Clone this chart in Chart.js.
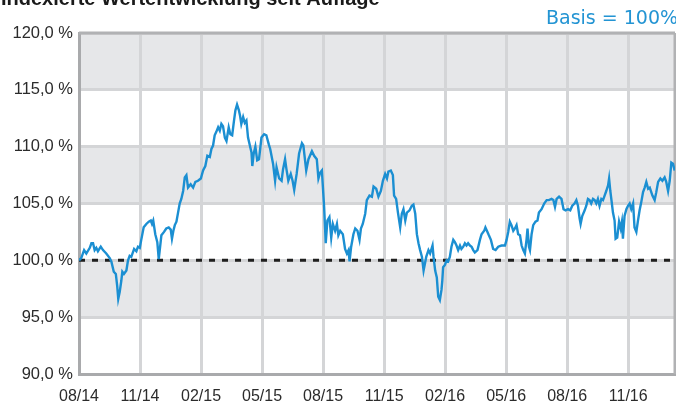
<!DOCTYPE html>
<html>
<head>
<meta charset="utf-8">
<script src="https://cdn.jsdelivr.net/npm/chart.js@4/dist/chart.umd.min.js"></script>
<style>
  html, body { margin: 0; padding: 0; background: #ffffff; }
  #wrap { position: relative; width: 676px; height: 405px; overflow: hidden; }
  canvas { display: block; }
</style>
</head>
<body>
<div id="wrap"><canvas id="c" width="676" height="405"></canvas></div>
<script>
// ---- Data ----
const chartTitle = 'Indexierte Wertentwicklung seit Auflage';
const basisText = 'Basis = 100%';
const xTickLabels = ['08/14','11/14','02/15','05/15','08/15','11/15','02/16','05/16','08/16','11/16'];
const yTickLabels = ['90,0 %','95,0 %','100,0 %','105,0 %','110,0 %','115,0 %','120,0 %'];
const basisValue = 100;
const monthsEnd = 29.3;
// months since 08/2014
const months = [
 0,0.11,0.25,0.36,0.53,0.61,0.69,0.77,0.85,0.93,1.07,1.18,1.34,1.51,1.59,1.71,1.81,1.88,1.93,2.00,
 2.08,2.13,2.21,2.33,2.41,2.49,2.57,2.71,2.82,2.90,2.99,3.06,3.18,3.31,3.43,3.53,3.59,3.65,3.75,3.85,
 3.92,3.97,4.05,4.18,4.29,4.41,4.51,4.57,4.64,4.71,4.79,4.87,4.95,5.03,5.12,5.20,5.28,5.36,5.49,5.61,
 5.72,5.85,5.99,6.10,6.21,6.31,6.43,6.51,6.59,6.67,6.75,6.84,6.92,7.00,7.08,7.17,7.25,7.36,7.44,7.53,
 7.62,7.69,7.77,7.86,7.92,7.98,8.07,8.15,8.23,8.31,8.40,8.48,8.52,8.59,8.67,8.76,8.85,8.97,9.10,9.21,
 9.33,9.40,9.54,9.64,9.71,9.84,9.96,10.03,10.13,10.20,10.29,10.41,10.50,10.58,10.70,10.82,10.96,11.03,11.17,11.28,
 11.45,11.56,11.69,11.77,11.85,11.94,12.05,12.13,12.21,12.31,12.40,12.48,12.59,12.68,12.75,12.84,12.97,13.08,13.17,13.25,
 13.30,13.38,13.49,13.58,13.69,13.79,13.86,13.95,14.07,14.15,14.28,14.40,14.48,14.61,14.72,14.84,14.94,15.05,15.14,15.21,
 15.33,15.43,15.49,15.59,15.68,15.79,15.87,15.95,16.04,16.12,16.25,16.36,16.44,16.53,16.61,16.69,16.77,16.86,16.94,17.07,
 17.18,17.26,17.38,17.43,17.51,17.59,17.66,17.74,17.82,17.86,17.90,17.99,18.07,18.15,18.23,18.31,18.40,18.48,18.56,18.64,
 18.73,18.80,18.89,18.97,19.05,19.13,19.22,19.30,19.38,19.46,19.59,19.71,19.79,19.92,19.98,20.08,20.15,20.25,20.36,20.48,
 20.61,20.77,20.94,21.02,21.10,21.18,21.26,21.35,21.43,21.51,21.59,21.68,21.76,21.84,21.92,22.00,22.05,22.12,22.17,22.25,
 22.33,22.44,22.54,22.61,22.74,22.87,22.99,23.10,23.23,23.32,23.40,23.48,23.60,23.72,23.82,23.92,24.04,24.15,24.25,24.36,
 24.45,24.53,24.61,24.66,24.74,24.86,24.94,25.02,25.10,25.18,25.27,25.35,25.43,25.51,25.59,25.68,25.76,25.84,25.92,26.01,
 26.06,26.12,26.19,26.25,26.33,26.38,26.46,26.55,26.63,26.69,26.74,26.82,26.91,26.99,27.07,27.15,27.24,27.31,27.40,27.48,
 27.56,27.64,27.73,27.81,27.89,27.98,28.06,28.19,28.30,28.38,28.47,28.58,28.68,28.79,28.87,28.96,29.04,29.12,29.20,29.28
];
const values = [
 100.0,100.2,100.9,100.6,101.1,101.5,101.5,100.9,101.1,100.8,101.2,100.9,100.6,100.2,99.9,99.0,98.8,97.7,96.6,97.2,
 98.2,99.0,98.8,99.1,100.0,100.4,100.3,101.0,100.8,101.2,101.1,101.8,102.9,103.2,103.4,103.5,103.2,103.5,102.3,101.6,
 100.1,100.9,102.2,102.5,102.8,102.9,102.7,101.9,102.6,103.1,103.4,104.2,105.0,105.4,106.1,107.3,107.5,106.4,106.7,106.4,
 106.9,107.0,107.2,107.9,108.3,109.2,109.1,109.8,110.1,111.0,111.3,111.7,111.4,112.0,111.8,110.8,110.5,111.7,111.1,111.0,
 112.3,113.2,113.7,113.2,112.7,112.0,112.6,112.1,112.3,110.8,110.1,109.5,108.3,109.4,110.0,108.8,108.9,110.8,111.1,111.0,
 110.2,109.8,108.5,107.0,108.2,107.2,107.0,108.0,108.9,108.0,107.0,107.6,107.0,106.2,107.6,109.4,110.3,110.1,107.9,108.9,
 109.6,109.2,108.9,107.2,107.7,107.9,104.7,101.5,103.5,103.8,102.0,103.2,102.6,103.2,102.2,102.6,102.3,101.0,100.6,100.9,
 99.9,101.2,102.3,102.8,102.6,101.8,102.8,103.2,104.1,105.3,105.7,105.6,106.5,106.3,105.6,106.1,107.0,107.6,107.2,107.8,
 107.9,107.5,105.7,105.4,104.2,102.9,104.1,104.5,103.5,104.2,104.4,104.8,104.9,104.1,102.3,101.5,100.9,100.3,99.1,100.3,
 100.9,100.6,101.3,100.3,99.1,98.5,96.8,96.5,97.4,98.2,99.4,99.6,100.0,99.9,100.3,101.2,101.8,101.6,101.3,100.9,
 101.3,101.0,101.2,101.5,101.3,101.5,101.3,101.2,100.9,100.7,100.9,101.8,102.3,102.6,102.9,102.5,102.2,101.8,101.0,100.9,
 101.2,101.3,101.3,101.8,102.5,103.4,103.1,102.6,102.8,103.1,102.3,102.2,101.3,100.9,100.6,101.8,102.8,101.2,100.9,102.3,
 103.1,103.4,103.5,104.2,104.5,105.0,105.3,105.3,105.4,105.3,104.7,105.4,105.6,105.4,104.5,104.4,104.5,104.4,104.8,105.0,
 105.3,104.8,103.7,103.2,103.9,104.4,104.8,105.4,105.3,105.0,105.4,105.3,105.0,105.4,104.8,105.4,105.3,105.7,106.1,106.6,
 107.2,106.1,105.1,104.2,103.5,101.9,102.0,103.4,102.8,103.4,101.9,103.9,104.5,104.8,105.0,104.5,105.0,102.9,102.5,103.5,
 104.4,105.1,106.0,106.4,106.9,106.3,106.4,105.7,105.3,106.0,106.9,107.2,107.0,107.3,106.9,106.1,107.0,108.6,108.5,107.9
];

// ---- Build ----
const seriesPoints = months.map((m, i) => ({ x: m, y: values[i] }));
const basisPoints = [{ x: 0, y: basisValue }, { x: monthsEnd, y: basisValue }];

const FONT = "'Liberation Sans', Arial, Helvetica, sans-serif";

const bandsPlugin = {
  id: 'bands',
  beforeDraw(chart) {
    const { ctx, chartArea: a, scales: { y } } = chart;
    ctx.save();
    const bands = [[115, 120], [105, 110], [95, 100]];
    ctx.fillStyle = '#e6e7e9';
    bands.forEach(([lo, hi]) => {
      const t = y.getPixelForValue(hi), b = y.getPixelForValue(lo);
      ctx.fillRect(a.left, t, a.right - a.left, b - t);
    });
    ctx.restore();
  },
  beforeDatasetsDraw(chart) {
    const { ctx, chartArea: a } = chart;
    ctx.save();
    ctx.strokeStyle = '#b1b2b4';
    ctx.lineWidth = 3;
    ctx.beginPath();
    ctx.moveTo(a.left, a.top);
    ctx.lineTo(a.right, a.top);
    ctx.moveTo(a.right, a.top);
    ctx.lineTo(a.right, a.bottom);
    ctx.stroke();
    ctx.restore();
  },
  afterDraw(chart) {
    const { ctx } = chart;
    ctx.save();
    ctx.fillStyle = '#1a1a1a';
    ctx.font = "bold 20px " + FONT;
    ctx.textBaseline = 'alphabetic';
    ctx.textAlign = 'left';
    ctx.fillText(chartTitle, 1, 5);
    ctx.fillStyle = '#2394d3';
    ctx.font = "19px 'DejaVu Sans', Verdana, sans-serif";
    ctx.fillText(basisText, 546, 24);
    ctx.restore();
  }
};

new Chart(document.getElementById('c'), {
  type: 'line',
  data: {
    datasets: [
      {
        label: 'Fonds',
        data: seriesPoints,
        borderColor: '#1b8fd2',
        borderWidth: 2.4,
        pointRadius: 0,
        tension: 0,
        order: 1
      },
      {
        label: 'Basis',
        data: basisPoints,
        borderColor: '#1f1f1f',
        borderWidth: 3,
        borderDash: [6, 7],
        pointRadius: 0,
        order: 2
      }
    ]
  },
  options: {
    responsive: false,
    animation: false,
    devicePixelRatio: 1,
    layout: { padding: { top: 33, right: 1, left: 0, bottom: 0 } },
    plugins: { legend: { display: false }, tooltip: { enabled: false }, title: { display: false } },
    scales: {
      x: {
        type: 'linear',
        min: 0,
        max: monthsEnd,
        afterFit(s) { s.height = 31; },
        grid: { color: '#d4d5d7', lineWidth: 3, drawTicks: false },
        border: { color: '#a9aaac', width: 3 },
        ticks: {
          stepSize: 3,
          includeBounds: false,
          autoSkip: false,
          maxRotation: 0,
          padding: 13,
          color: '#2b2b2b',
          font: { family: FONT, size: 16 },
          callback: (v) => xTickLabels[Math.round(v / 3)] ?? ''
        }
      },
      y: {
        min: 90,
        max: 120,
        afterFit(s) { s.width = 79; },
        grid: { color: '#d4d5d7', lineWidth: 3, drawTicks: false },
        border: { color: '#a9aaac', width: 3 },
        ticks: {
          stepSize: 5,
          padding: 6,
          color: '#2b2b2b',
          font: { family: FONT, size: 16.5 },
          callback: (v) => yTickLabels[Math.round((v - 90) / 5)] ?? ''
        }
      }
    }
  },
  plugins: [bandsPlugin]
});
</script>
</body>
</html>
